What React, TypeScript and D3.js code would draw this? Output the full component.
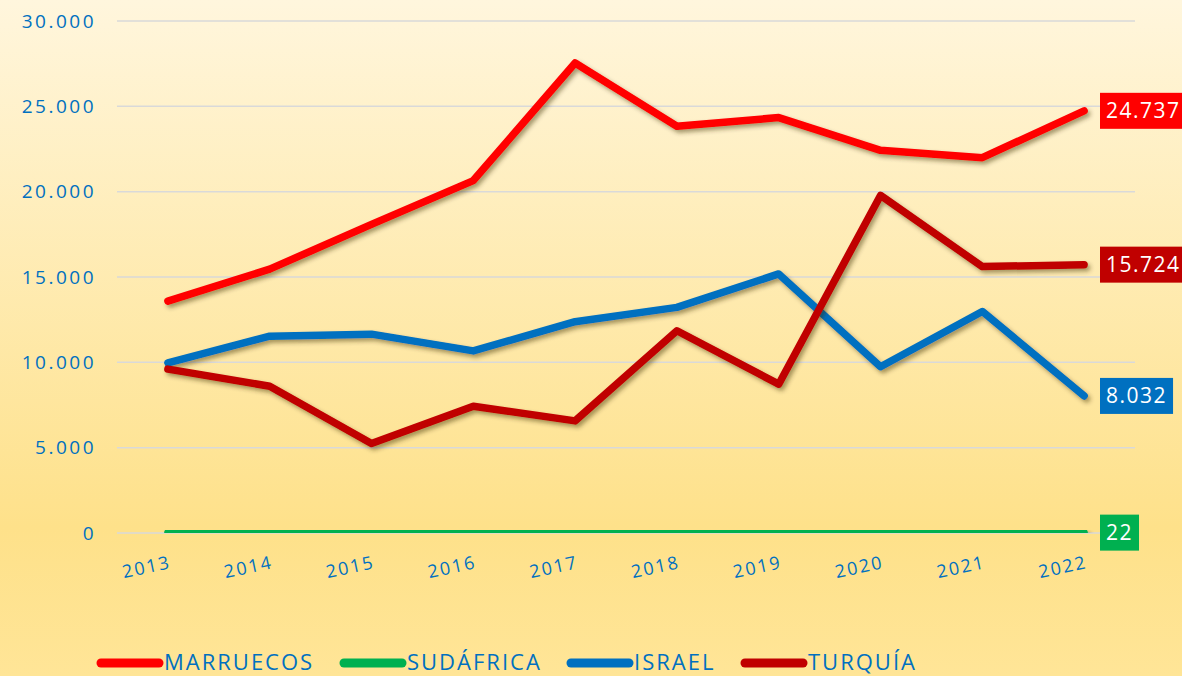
import { useEffect, useRef } from "react";
import * as d3 from "d3";

const years = ["2013", "2014", "2015", "2016", "2017", "2018", "2019", "2020", "2021", "2022"];
const marruecos = [13590, 15460, 18080, 20650, 27540, 23830, 24340, 22420, 21990, 24737];
const sudafrica = [20, 25, 30, 30, 40, 110, 40, 120, 40, 22];
const israel = [9970, 11530, 11650, 10670, 12380, 13220, 15180, 9740, 12980, 8032];
const turquia = [9600, 8600, 5240, 7430, 6570, 11850, 8720, 19780, 15610, 15724];
const yTicks = [0, 5000, 10000, 15000, 20000, 25000, 30000];

const series = [
  { name: "MARRUECOS", values: marruecos, color: "#FF0000" },
  { name: "SUDÁFRICA", values: sudafrica, color: "#00B050" },
  { name: "ISRAEL", values: israel, color: "#0070C0" },
  { name: "TURQUÍA", values: turquia, color: "#C00000" },
];

const W = 1182;
const H = 676;
const FONT = "'Open Sans', sans-serif";
const TEXT = "#0070C0";

const fmt = (v: number) => d3.format(",")(v).replace(/,/g, ".");

export default function App() {
  const ref = useRef<SVGSVGElement>(null);

  useEffect(() => {
    document.body.style.margin = "0";
    if (!ref.current) return;
    const svg = d3.select(ref.current);
    svg.selectAll("*").remove();

    const defs = svg.append("defs");
    const grad = defs.append("linearGradient")
      .attr("id", "bg").attr("x1", 0).attr("y1", 0).attr("x2", 0).attr("y2", 1);
    grad.append("stop").attr("offset", "0%").attr("stop-color", "#FFF6DD");
    grad.append("stop").attr("offset", "78%").attr("stop-color", "#FEE18A");
    grad.append("stop").attr("offset", "100%").attr("stop-color", "#FFE597");
    defs.append("filter").attr("id", "shadow")
      .attr("x", "-10%").attr("y", "-10%").attr("width", "120%").attr("height", "130%")
      .append("feDropShadow")
      .attr("dx", 2.5).attr("dy", 3).attr("stdDeviation", 2)
      .attr("flood-color", "#3a2a00").attr("flood-opacity", 0.45);

    svg.append("rect").attr("width", W).attr("height", H).attr("fill", "url(#bg)");

    const x = d3.scaleBand().domain(years).range([117, 1135]);
    const y = d3.scaleLinear().domain([0, 30000]).range([533, 21]);
    const cx = (d: string) => (x(d) ?? 0) + x.bandwidth() / 2;

    // grid
    svg.append("g").selectAll("line").data(yTicks).join("line")
      .attr("x1", 117).attr("x2", 1135)
      .attr("y1", d => y(d)).attr("y2", d => y(d))
      .attr("stroke", "#D9D9D9").attr("stroke-width", 1.5);

    // y labels
    svg.append("g").selectAll("text").data(yTicks).join("text")
      .attr("x", 96).attr("y", d => y(d)).attr("dy", "0.35em")
      .attr("text-anchor", "end")
      .attr("font-family", FONT).attr("font-size", 19).attr("letter-spacing", 2.5)
      .attr("fill", TEXT)
      .text(d => fmt(d));

    // x labels
    svg.append("g").selectAll("text").data(years).join("text")
      .attr("transform", d => `translate(${cx(d) + 4},${568}) rotate(-12)`)
      .attr("text-anchor", "end")
      .attr("font-family", FONT).attr("font-size", 18).attr("letter-spacing", 2)
      .attr("fill", TEXT)
      .text(d => d);

    const line = d3.line<number>()
      .x((_, i) => cx(years[i]))
      .y(d => y(d));

    svg.append("g").selectAll("path").data(series).join("path")
      .attr("d", d => line(d.values))
      .attr("fill", "none")
      .attr("stroke", d => d.color)
      .attr("stroke-width", 7.5)
      .attr("stroke-linecap", "round")
      .attr("stroke-linejoin", "round")
      .attr("filter", "url(#shadow)");

    // end labels
    const lab = svg.append("g").selectAll("g").data(series).join("g")
      .attr("transform", d => `translate(1100,${y(d.values[d.values.length - 1])})`);
    const boxes = lab.append("rect")
      .attr("y", -18).attr("height", 36)
      .attr("fill", d => d.color);
    const texts = lab.append("text")
      .attr("x", 6).attr("dy", "0.36em")
      .attr("font-family", FONT).attr("font-size", 21).attr("letter-spacing", 1.5)
      .attr("fill", "#fff")
      .text(d => fmt(d.values[d.values.length - 1]));
    texts.each(function (_, i) {
      const w = (this as SVGTextElement).getComputedTextLength();
      d3.select(boxes.nodes()[i]).attr("width", w + 12);
    });

    // legend
    const legendX = [101, 344, 571, 745];
    const leg = svg.append("g").selectAll("g").data(series).join("g")
      .attr("transform", (_, i) => `translate(${legendX[i]},663)`);
    leg.append("line")
      .attr("x1", 0).attr("x2", 58).attr("y1", 0).attr("y2", 0)
      .attr("stroke", d => d.color).attr("stroke-width", 9).attr("stroke-linecap", "round");
    leg.append("text")
      .attr("x", 63).attr("y", 7)
      .attr("font-family", FONT).attr("font-size", 22).attr("letter-spacing", 2)
      .attr("fill", TEXT)
      .text(d => d.name);
  }, []);

  return <svg ref={ref} width={W} height={H} style={{ display: "block" }} />;
}
